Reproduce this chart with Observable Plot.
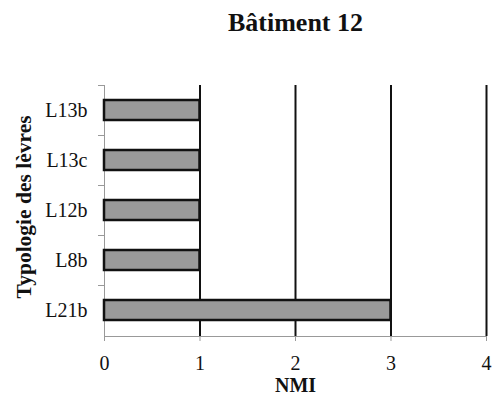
<!DOCTYPE html>
<html>
<head>
<meta charset="utf-8">
<script src="https://cdn.jsdelivr.net/npm/d3@7"></script>
<script src="https://cdn.jsdelivr.net/npm/@observablehq/plot@0.6"></script>
<style>
body { margin: 0; background: #fff; }
svg { display: block; }
</style>
</head>
<body>
<div id="chart"></div>
<script>
const categories = ["L13b", "L13c", "L12b", "L8b", "L21b"];
const values = [1, 1, 1, 1, 3];
const xTicks = [0, 1, 2, 3, 4];
const gridValues = [1, 2, 3, 4];
const title = "Bâtiment 12";
const xLabel = "NMI";
const yLabel = "Typologie des lèvres";

const data = categories.map((c, i) => ({cat: c, value: values[i]}));
const font = "'Liberation Serif', 'DejaVu Serif', serif";

const chart = Plot.plot({
  width: 498,
  height: 401,
  marginLeft: 104,
  marginRight: 12,
  marginTop: 85,
  marginBottom: 65,
  style: {fontFamily: font, fontSize: "20px", color: "#111", background: "#fff"},
  x: {domain: [0, 4]},
  y: {domain: categories, paddingInner: 0.6, paddingOuter: 0.3},
  marks: [
    Plot.frame({anchor: "left", stroke: "#999", strokeWidth: 1}),
    Plot.frame({anchor: "bottom", stroke: "#999", strokeWidth: 1}),
    Plot.ruleX(gridValues, {stroke: "#111", strokeWidth: 2}),
    Plot.axisY({tickSize: 0, tickPadding: 17, label: null, fontSize: 20}),
    Plot.axisY({tickSize: 6, text: null, dy: -25, stroke: "#999", label: null}),
    Plot.axisX({ticks: xTicks, tickSize: 5, tickPadding: 14, stroke: "#999", label: null, fontSize: 20, tickFormat: d3.format("d")}),
    Plot.barX(data, {x: "value", y: "cat", fill: "#9a9a9a", stroke: "#111", strokeWidth: 2.5}),
    Plot.text([title], {frameAnchor: "top", dy: -63, lineAnchor: "middle", fontWeight: "bold", fontSize: 26, fill: "#111"}),
    Plot.text([xLabel], {frameAnchor: "bottom", dy: 49, lineAnchor: "middle", fontWeight: "bold", fontSize: 20, fill: "#111"}),
    Plot.text([yLabel], {frameAnchor: "left", dx: -80, dy: -4, rotate: -90, textAnchor: "middle", lineAnchor: "middle", fontWeight: "bold", fontSize: 21.5, fill: "#111"})
  ]
});
document.getElementById("chart").appendChild(chart);
</script>
</body>
</html>
